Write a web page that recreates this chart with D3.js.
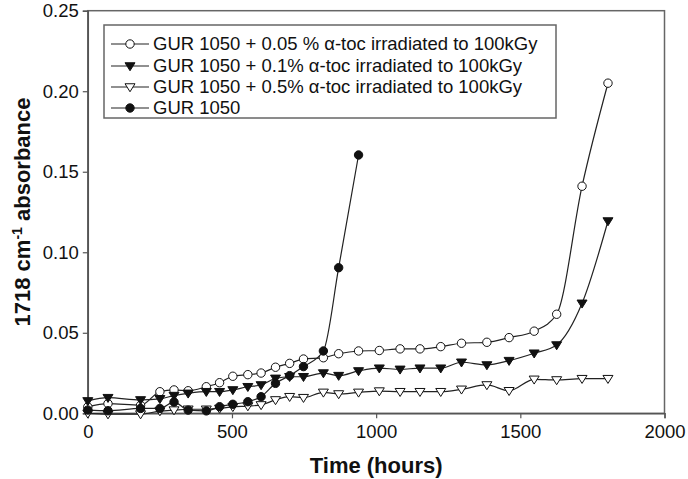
<!DOCTYPE html>
<html><head><meta charset="utf-8">
<script src="https://cdn.jsdelivr.net/npm/d3@7"></script>
<style>body{margin:0;background:#fff;} svg{display:block;}</style>
</head><body>
<script>
const xTicks = [0, 500, 1000, 1500, 2000];
const yTicks = [0.00, 0.05, 0.10, 0.15, 0.20, 0.25];

const timesA = [0, 70, 183, 250, 299, 348, 411, 457, 503, 555, 601, 651, 700, 748, 817, 870, 939, 1011, 1083, 1152, 1224, 1296, 1384, 1461, 1548, 1626, 1714, 1804];
const toc005 = [0.004, 0.006, 0.005, 0.0134, 0.0145, 0.014, 0.0165, 0.019, 0.023, 0.024, 0.025, 0.0286, 0.031, 0.0337, 0.0345, 0.037, 0.0387, 0.039, 0.040, 0.040, 0.0414, 0.0435, 0.0441, 0.047, 0.051, 0.0615, 0.141, 0.205];
const toc01  = [0.0077, 0.0097, 0.0083, 0.009, 0.011, 0.0124, 0.0134, 0.0134, 0.0145, 0.0165, 0.0176, 0.0217, 0.0227, 0.0227, 0.025, 0.0234, 0.0263, 0.028, 0.0273, 0.028, 0.028, 0.0317, 0.030, 0.0327, 0.0373, 0.0424, 0.0683, 0.1194];
const toc05  = [0.0, -0.0005, -0.0005, 0.0014, 0.002, 0.0025, 0.0025, 0.003, 0.004, 0.0045, 0.0052, 0.0083, 0.0103, 0.0097, 0.013, 0.012, 0.013, 0.0138, 0.0134, 0.0134, 0.0134, 0.0149, 0.0176, 0.014, 0.0211, 0.0207, 0.0215, 0.0215];
const timesB = [0, 70, 183, 250, 299, 348, 411, 457, 503, 555, 601, 651, 700, 748, 817, 870, 939];
const gur1050 = [0.002, 0.0016, 0.003, 0.003, 0.007, 0.002, 0.0015, 0.0041, 0.0056, 0.0072, 0.0103, 0.0186, 0.0234, 0.029, 0.0387, 0.0904, 0.1604];

const legendLabels = [
  "GUR 1050 + 0.05 % \u03b1-toc irradiated to 100kGy",
  "GUR 1050 + 0.1% \u03b1-toc irradiated to 100kGy",
  "GUR 1050 + 0.5% \u03b1-toc irradiated to 100kGy",
  "GUR 1050"
];

const W = 688, H = 479;
const m = {left: 87.8, top: 10.7, right: 23.5, bottom: 65.7};
const svg = d3.select("body").append("svg").attr("width", W).attr("height", H);
const font = "Liberation Sans, Arial, sans-serif";

const x = d3.scaleLinear().domain([0, 2000]).range([m.left, W - m.right]);
const y = d3.scaleLinear().domain([0, 0.25]).range([H - m.bottom, m.top]);

// frame
svg.append("rect").attr("x", m.left).attr("y", m.top)
  .attr("width", W - m.right - m.left).attr("height", H - m.bottom - m.top)
  .attr("fill", "none").attr("stroke", "#666").attr("stroke-width", 1.5);

const xAxis = svg.append("g").attr("transform", `translate(0,${H - m.bottom})`)
  .call(d3.axisBottom(x).tickValues(xTicks).tickFormat(d3.format("d")).tickSize(5).tickPadding(7));
const yAxis = svg.append("g").attr("transform", `translate(${m.left},0)`)
  .call(d3.axisLeft(y).tickValues(yTicks).tickFormat(d3.format(".2f")).tickSize(5).tickPadding(4));
[xAxis, yAxis].forEach(g => {
  g.select(".domain").attr("stroke", "#555").attr("stroke-width", 1.5);
  g.selectAll(".tick line").attr("stroke", "#555").attr("stroke-width", 1.2);
  g.selectAll(".tick text").attr("font-family", font).attr("font-size", 18.5).attr("fill", "#111");
});

// axis titles
svg.append("text").attr("x", (m.left + W - m.right) / 2).attr("y", 473)
  .attr("text-anchor", "middle").attr("font-family", font).attr("font-size", 22)
  .attr("font-weight", "bold").attr("fill", "#111").text("Time (hours)");
const yl = svg.append("text").attr("transform", "translate(30,212) rotate(-90)")
  .attr("text-anchor", "middle").attr("font-family", font).attr("font-size", 22)
  .attr("font-weight", "bold").attr("fill", "#111");
yl.append("tspan").text("1718 cm");
yl.append("tspan").attr("font-size", 14).attr("dy", -8).text("-1");
yl.append("tspan").attr("dy", 8).text(" absorbance");

const series = [
  {t: timesA, v: toc005, shape: "circle", fill: "#fff"},
  {t: timesA, v: toc01, shape: "tri", fill: "#111"},
  {t: timesA, v: toc05, shape: "tri", fill: "#fff"},
  {t: timesB, v: gur1050, shape: "circle", fill: "#111"}
];

const line = d3.line().x(d => x(d[0])).y(d => y(d[1])).curve(d3.curveMonotoneX);

function marker(g, shape, fill, cx, cy) {
  if (shape === "circle") {
    g.append("circle").attr("cx", cx).attr("cy", cy).attr("r", 4.2)
      .attr("fill", fill).attr("stroke", "#111").attr("stroke-width", 1);
  } else {
    const s = 5;
    g.append("path")
      .attr("d", `M${cx - s},${cy - s * 0.65}L${cx + s},${cy - s * 0.65}L${cx},${cy + s * 0.95}Z`)
      .attr("fill", fill).attr("stroke", "#111").attr("stroke-width", 1);
  }
}

series.forEach(s => {
  const pts = s.t.map((t, i) => [t, s.v[i]]);
  svg.append("path").datum(pts).attr("d", line).attr("fill", "none")
    .attr("stroke", "#222").attr("stroke-width", 1.2);
});
series.forEach(s => {
  const g = svg.append("g");
  s.t.forEach((t, i) => marker(g, s.shape, s.fill, x(t), y(s.v[i])));
});

// legend
const lg = svg.append("g");
lg.append("rect").attr("x", 104).attr("y", 25).attr("width", 452).attr("height", 93)
  .attr("fill", "#fff").attr("stroke", "#666").attr("stroke-width", 1.5);
const rowsY = [44, 66, 87, 108];
series.forEach((s, i) => {
  const yy = rowsY[i];
  lg.append("line").attr("x1", 111).attr("x2", 149).attr("y1", yy).attr("y2", yy)
    .attr("stroke", "#222").attr("stroke-width", 1.2);
  marker(lg, s.shape, s.fill, 130, yy);
  lg.append("text").attr("x", 153).attr("y", yy).attr("dy", "0.35em")
    .attr("font-family", font).attr("font-size", 18.5).attr("fill", "#111").text(legendLabels[i]);
});
</script>
</body></html>
